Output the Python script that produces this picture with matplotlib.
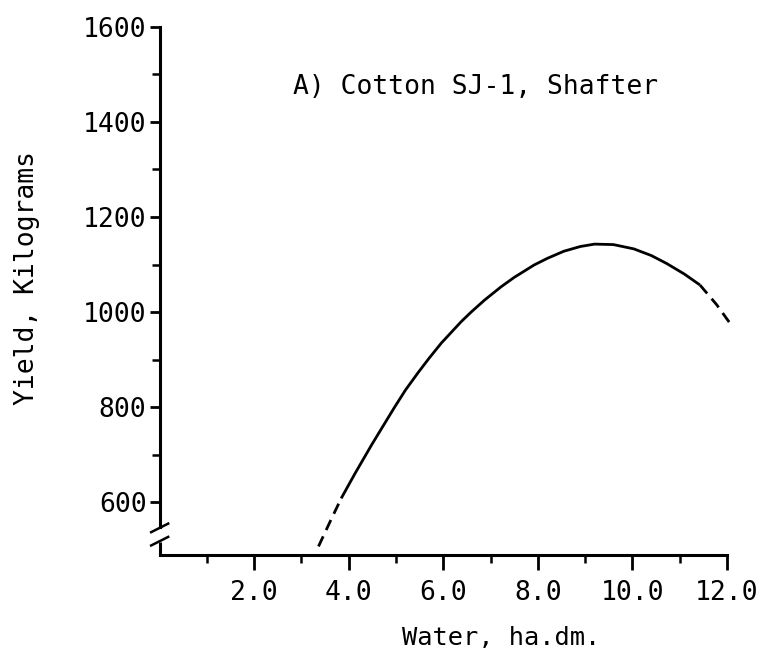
import matplotlib
matplotlib.use("Agg")
import matplotlib.pyplot as plt
import numpy as np

# values
water_dash_lo = [3.36, 3.60, 3.84]
yield_dash_lo = [507, 558, 608]
water_solid = [3.84, 4.13, 4.48, 4.70, 4.97, 5.20, 5.47, 5.70, 5.96, 6.38,
               6.60, 6.87, 7.22, 7.50, 7.92, 8.20, 8.55, 8.90, 9.20, 9.60,
               10.03, 10.40, 10.73, 11.10, 11.43]
yield_solid = [608, 660, 720, 756, 800, 836, 873, 903, 935, 980,
               1001, 1025, 1053, 1073, 1099, 1113, 1128, 1138, 1143, 1142,
               1133, 1119, 1102, 1080, 1057]
water_dash_hi = [11.43, 11.78, 12.12]
yield_dash_hi = [1057, 1016, 969]

xticks = [2, 4, 6, 8, 10, 12]
xtick_labels = ["2.0", "4.0", "6.0", "8.0", "10.0", "12.0"]
yticks = [600, 800, 1000, 1200, 1400, 1600]

plt.rcParams['font.family'] = ['DejaVu Sans Mono']
fs = 19

fig = plt.figure(figsize=(7.64, 6.56), dpi=100)
ax = fig.add_axes([0.209, 0.154, 0.761, 0.805])

ax.plot(water_solid, yield_solid, color='black', lw=2, solid_capstyle='butt',
        solid_joinstyle='round')
ax.plot(water_dash_lo, yield_dash_lo, color='black', lw=2, linestyle=(0, (4, 2.5)))
ax.plot(water_dash_hi, yield_dash_hi, color='black', lw=2, linestyle=(0, (4, 2.5)))

ax.set_xlim(0, 12.3)
ax.set_ylim(489, 1600)

for s in ['top', 'right']:
    ax.spines[s].set_visible(False)
ax.spines['left'].set_linewidth(2.2)
ax.spines['bottom'].set_linewidth(2.2)
ax.spines['bottom'].set_bounds(0, 12)
ax.spines['left'].set_bounds(548, 1600)

# axis break on the y axis
ax.plot([0, 0], [489, 516], color='black', lw=2.2, clip_on=False, solid_capstyle='butt')
for y0 in [518, 546]:
    ax.plot([-0.18, 0.18], [y0 - 9, y0 + 9], color='black', lw=1.8, clip_on=False)

ax.set_xticks(xticks)
ax.set_xticklabels(xtick_labels, fontsize=fs)
ax.set_xticks([1, 3, 5, 7, 9, 11], minor=True)
ax.set_yticks(yticks)
ax.set_yticklabels([str(v) for v in yticks], fontsize=fs)
ax.set_yticks([700, 900, 1100, 1300, 1500], minor=True)

ax.tick_params(axis='x', which='major', direction='out', length=11, width=2, pad=7)
ax.tick_params(axis='x', which='minor', direction='out', length=6, width=1.8)
ax.tick_params(axis='y', which='major', direction='out', length=7, width=2, pad=2.5)
ax.tick_params(axis='y', which='minor', direction='out', length=6, width=1.8)

ax.text(2.82, 1474, "A) Cotton SJ-1, Shafter", fontsize=fs, ha='left', va='center')

fig.text(27 / 764, 1 - 278 / 656, "Yield, Kilograms", rotation=90,
         fontsize=fs, ha='center', va='center')
fig.text(501 / 764, 1 - 638 / 656, "Water, ha.dm.", fontsize=18.3,
         ha='center', va='center')

fig.savefig("out.png", dpi=100)
